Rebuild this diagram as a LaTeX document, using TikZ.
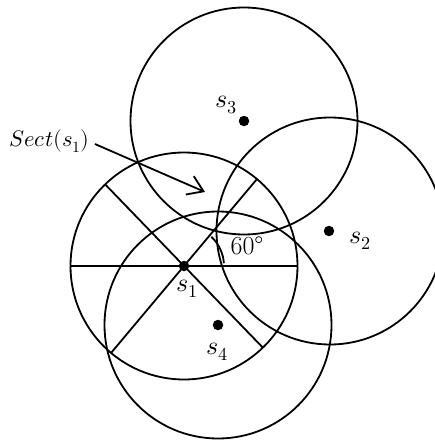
\documentclass[tikz,border=0pt]{standalone}
\usepackage{unicode-math}
\usetikzlibrary{arrows.meta,calc}
\tikzset{
  ln/.style={line width=1.8pt, black},
  dotnode/.style={circle, fill=black, inner sep=0pt, minimum size=10.5pt},
  lbl/.style={inner sep=0pt, font=\fontsize{26}{30}\selectfont},
  biglbl/.style={inner sep=0pt, font=\fontsize{22.5}{27}\selectfont},
  rng/.style={ln},
}
\begin{document}
\begin{tikzpicture}[x=1pt,y=-1pt]
\useasboundingbox (0,0) rectangle (435,441);
\clip (0,0) rectangle (435,441);
\def\R{113.5pt}
% sensors
\node[dotnode] (s1) at (184,266) {};
\node[dotnode] (s2) at (329,231) {};
\node[dotnode] (s3) at (244,121) {};
\node[dotnode] (s4) at (218,325) {};
% ranges
\coordinate (c2) at (330,231);
\draw[rng] (s1.center) circle[radius=\R];
\draw[rng] (c2) circle[radius=\R];
\draw[rng] (s3.center) circle[radius=\R];
\draw[rng] (s4.center) circle[radius=\R];
% sector lines
\draw[ln] ($(s1.center)+(180:\R)$) -- ($(s1.center)+(0:\R)$);
\draw[ln] ($(s1.center)+(230:\R)$) -- ($(s1.center)+(50:\R)$);
\draw[ln] ($(s1.center)+(134:\R)$) -- ($(s1.center)+(314:\R)$);
% angle arc
\draw[ln] ($(s1.center)+(47:40pt)$) arc[start angle=47, end angle=4, radius=40pt];
% labels
\node[lbl] (l1) at (187,289) {$s_1$};
\node[lbl] (l2) at (360,241) {$s_2$};
\node[lbl] (l3) at (226.5,105) {$s_3$};
\node[lbl] (l4) at (217,352) {$s_4$};
\node[lbl] (ang) at (247,246) {60°};
\node[biglbl] (sect) at (49.5,141) {$Sect(s_1)$};
\coordinate (tip) at (205,192);
\draw[ln, -{Straight Barb[length=15pt,width=20pt,line width=1.8pt]}] ($(sect.east)+(5pt,-3pt)$) -- (tip);
\end{tikzpicture}
\end{document}
